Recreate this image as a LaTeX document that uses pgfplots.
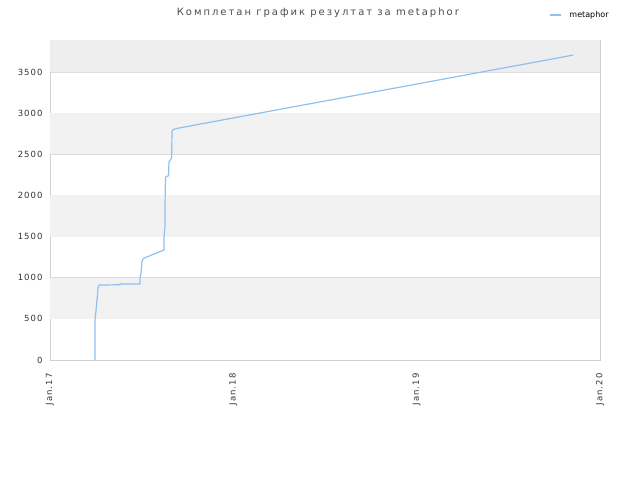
\documentclass[border=0pt]{standalone}
\usepackage{pgfplots}
\pgfplotsset{compat=1.18}
\usepackage{fontspec}
\setmainfont{DejaVu Sans}
\newfontfamily\titlefont[LetterSpace=20]{DejaVu Sans}
\newfontfamily\tickfont[LetterSpace=12]{DejaVu Sans}
\definecolor{band}{HTML}{F2F2F2}
\definecolor{bandtop}{HTML}{EEEEEE}
\definecolor{gridc}{HTML}{DDDDDD}
\definecolor{axc}{HTML}{D0D0D0}
\definecolor{linec}{HTML}{8EC1F0}
\definecolor{txt}{HTML}{333333}
\begin{document}
\begin{tikzpicture}
\useasboundingbox (0pt,0pt) rectangle (640pt,480pt);
\begin{axis}[
  at={(50pt,120pt)}, anchor=south west,
  width=550pt, height=320pt, scale only axis,
  xmin=0, xmax=1095, ymin=0, ymax=3890,
  xtick={0,365,730,1095},
  xticklabels={Jan.17,Jan.18,Jan.19,Jan.20},
  x tick label style={yshift=-10pt, rotate=90, anchor=east, font=\tickfont\fontsize{8.5}{10}\selectfont, text=txt},
  ytick={0,500,1000,1500,2000,2500,3000,3500},
  y tick label style={font=\tickfont\fontsize{8.5}{10}\selectfont, text=txt, xshift=-4pt},
  /pgf/number format/assume math mode=true,
  /pgf/number format/1000 sep={},
  major tick length=0pt,
  ymajorgrids, grid style={gridc, line width=0.8pt},
  axis line style={axc, line width=0.8pt},
  title={Комплетан график резултат за metaphor},
  title style={at={(axis description cs:0.487,1)}, anchor=south, yshift=13pt, font=\titlefont\fontsize{10}{12}\selectfont, text=black!70},
  legend style={at={(axis description cs:1.025,1.078)}, anchor=east, draw=none, fill=none, font=\fontsize{8}{10}\selectfont, legend cell align=left, /tikz/every even column/.append style={column sep=0pt}},
  legend image code/.code={\draw[#1, line width=1.5pt] (-2pt,0pt) -- (9pt,0pt);},
]
\fill[band] (axis cs:0,500) rectangle (axis cs:1095,1000);
\fill[band] (axis cs:0,1500) rectangle (axis cs:1095,2000);
\fill[band] (axis cs:0,2500) rectangle (axis cs:1095,3000);
\fill[bandtop] (axis cs:0,3500) rectangle (axis cs:1095,3890);
\addplot[linec, line width=1.2pt] coordinates {
(89.6,0) (89.6,486) (91.6,600) (93.6,729) (94.6,800) (95.6,880) (98.2,911)
(139.4,915) (139.4,925) (179.2,925) (179.2,1000) (181.2,1053) (183.2,1200)
(185.8,1235) (227.0,1337) (227.0,1500) (229.0,1620) (229.0,1904) (229.9,2208)
(230.9,2228) (235.9,2240) (236.9,2410) (241.9,2450) (242.3,2511) (242.9,2775)
(244.9,2800) (252.2,2815) (1041.2,3706)
};
\addlegendentry{\hspace{6pt}metaphor}
\end{axis}
\end{tikzpicture}
\end{document}
